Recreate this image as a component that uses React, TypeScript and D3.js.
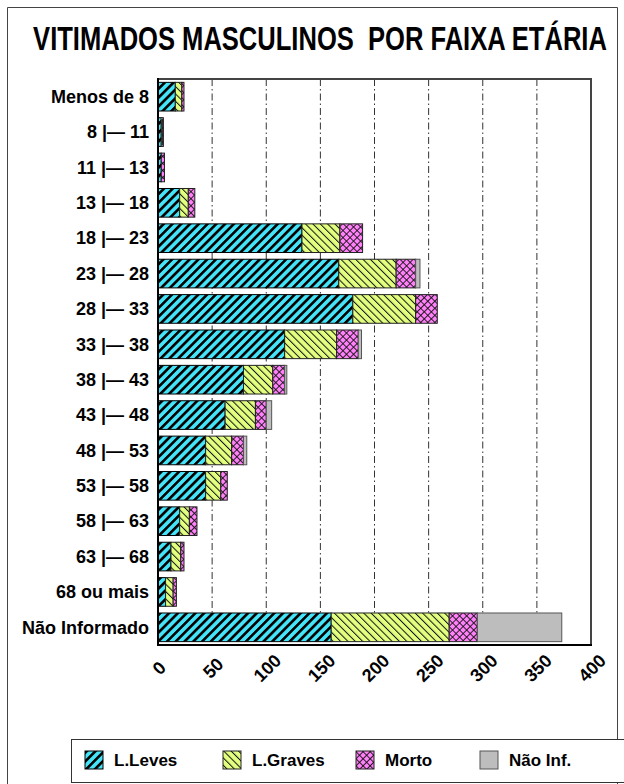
import React, { useRef, useEffect } from 'react';
import * as d3 from 'd3';

const categories = [
  'Menos de 8', '8 |— 11', '11 |— 13', '13 |— 18', '18 |— 23', '23 |— 28',
  '28 |— 33', '33 |— 38', '38 |— 43', '43 |— 48', '48 |— 53', '53 |— 58',
  '58 |— 63', '63 |— 68', '68 ou mais', 'Não Informado',
];
const leves = [16, 3, 3, 20, 133, 167, 180, 117, 79, 62, 44, 44, 20, 12, 7, 160];
const graves = [6, 1, 0, 8, 35, 53, 58, 48, 27, 28, 24, 14, 9, 9, 7, 109];
const morto = [2, 1, 3, 6, 21, 18, 20, 20, 11, 10, 11, 6, 7, 3, 3, 26];
const naoInf = [0, 0, 0, 0, 0, 4, 0, 3, 2, 5, 3, 0, 0, 0, 0, 78];
const seriesKeys = ['leves', 'graves', 'morto', 'naoInf'];
const seriesNames = ['L.Leves', 'L.Graves', 'Morto', 'Não Inf.'];
const xTicks = [0, 50, 100, 150, 200, 250, 300, 350, 400];
const title = 'VITIMADOS MASCULINOS  POR FAIXA ETÁRIA';

const W = 624;
const H = 784;
const FONT = '"Liberation Sans", Arial, sans-serif';

const App = () => {
  const svgRef = useRef<SVGSVGElement | null>(null);

  useEffect(() => {
    const svg = d3.select(svgRef.current);
    svg.selectAll('*').remove();

    const left = 158, right = 591, top = 79, bottom = 645;

    const x = d3.scaleLinear().domain([0, 400]).range([left, right]);
    const y = d3.scaleBand<string>().domain(categories).range([top, bottom])
      .paddingInner(0.19).paddingOuter(0.095);

    const rows = categories.map((c, i) => ({
      cat: c, leves: leves[i], graves: graves[i], morto: morto[i], naoInf: naoInf[i],
    }));
    const stacked = d3.stack<any>().keys(seriesKeys)(rows);

    // patterns
    const defs = svg.append('defs');
    const pL = defs.append('pattern').attr('id', 'pat-leves').attr('patternUnits', 'userSpaceOnUse')
      .attr('width', 6.2).attr('height', 6.2).attr('patternTransform', 'rotate(45)');
    pL.append('rect').attr('width', 6.2).attr('height', 6.2).attr('fill', '#45E3F8');
    pL.append('rect').attr('width', 2.6).attr('height', 6.2).attr('fill', '#000');

    const pG = defs.append('pattern').attr('id', 'pat-graves').attr('patternUnits', 'userSpaceOnUse')
      .attr('width', 5.2).attr('height', 5.2).attr('patternTransform', 'rotate(-45)');
    pG.append('rect').attr('width', 5.2).attr('height', 5.2).attr('fill', '#E2FF80');
    pG.append('rect').attr('width', 1).attr('height', 5.2).attr('fill', '#111');

    const pM = defs.append('pattern').attr('id', 'pat-morto').attr('patternUnits', 'userSpaceOnUse')
      .attr('width', 5).attr('height', 5).attr('patternTransform', 'rotate(45)');
    pM.append('rect').attr('width', 5).attr('height', 5).attr('fill', '#FF80F8');
    pM.append('rect').attr('width', 0.9).attr('height', 5).attr('fill', '#111');
    pM.append('rect').attr('width', 5).attr('height', 0.9).attr('fill', '#111');

    const fills: Record<string, string> = {
      leves: 'url(#pat-leves)', graves: 'url(#pat-graves)', morto: 'url(#pat-morto)', naoInf: '#BDBDBD',
    };
    const strokes: Record<string, string> = {
      leves: '#000', graves: '#222', morto: '#222', naoInf: '#555',
    };

    svg.append('rect').attr('width', W).attr('height', H).attr('fill', '#fff');

    // outer frame
    svg.append('path').attr('d', `M7.5,${H + 2}V7.5H617.5V${H + 2}`)
      .attr('fill', 'none').attr('stroke', '#444').attr('stroke-width', 1);

    // title - squeezed horizontally to fit, like a narrow font
    const t = svg.append('text').attr('x', 0).attr('y', 0).attr('text-anchor', 'middle')
      .attr('font-family', '"Liberation Sans Narrow", "Arial Narrow", sans-serif')
      .attr('font-weight', 'bold').attr('font-size', 33)
      .style('white-space', 'pre')
      .text(title);
    const natural = (t.node() as SVGTextElement).getComputedTextLength() || 576;
    t.attr('transform', `translate(320,50) scale(${Math.min(1, 574 / natural)},1)`);

    // gridlines
    svg.append('g').selectAll('line').data(xTicks.slice(1, -1)).enter().append('line')
      .attr('x1', d => x(d)).attr('x2', d => x(d)).attr('y1', top).attr('y2', bottom)
      .attr('stroke', '#333').attr('stroke-width', 1).attr('stroke-dasharray', '7 3 1.5 3');

    // bars
    svg.append('g').selectAll('g').data(stacked).enter().append('g')
      .each(function (s: any) {
        d3.select(this).selectAll('rect').data(s.filter((d: any) => d[1] - d[0] > 0)).enter().append('rect')
          .attr('x', (d: any) => x(d[0]))
          .attr('y', (d: any) => y(d.data.cat) as number)
          .attr('width', (d: any) => x(d[1]) - x(d[0]))
          .attr('height', y.bandwidth())
          .attr('fill', fills[s.key])
          .attr('stroke', strokes[s.key]).attr('stroke-width', 1);
      });

    // plot frame
    svg.append('rect').attr('x', left).attr('y', top).attr('width', right - left).attr('height', bottom - top)
      .attr('fill', 'none').attr('stroke', '#444').attr('stroke-width', 2);
    svg.append('line').attr('x1', left).attr('x2', left).attr('y1', top - 1).attr('y2', bottom + 1)
      .attr('stroke', '#000').attr('stroke-width', 2);
    svg.append('line').attr('x1', left - 1).attr('x2', right + 1).attr('y1', bottom).attr('y2', bottom)
      .attr('stroke', '#000').attr('stroke-width', 2);

    // y labels
    svg.append('g').selectAll('text').data(categories).enter().append('text')
      .attr('x', 149).attr('y', d => (y(d) as number) + y.bandwidth() / 2)
      .attr('dy', '0.35em').attr('text-anchor', 'end')
      .attr('font-family', FONT).attr('font-weight', 'bold').attr('font-size', 18)
      .text(d => d);

    // x labels
    svg.append('g').selectAll('text').data(xTicks).enter().append('text')
      .attr('transform', d => `translate(${x(d) + 1},${668}) rotate(-45)`)
      .attr('dy', '0.35em').attr('text-anchor', 'middle')
      .attr('font-family', FONT).attr('font-weight', 'bold').attr('font-size', 18)
      .text(d => d);

    // legend
    svg.append('rect').attr('x', 71.5).attr('y', 739.5).attr('width', 560).attr('height', 43)
      .attr('fill', '#fff').attr('stroke', '#333').attr('stroke-width', 1);
    const legX = [85, 223, 356, 480];
    const lg = svg.append('g').selectAll('g').data(seriesKeys).enter().append('g')
      .attr('transform', (d, i) => `translate(${legX[i]},751)`);
    lg.append('rect').attr('width', 18).attr('height', 18)
      .attr('fill', d => fills[d]).attr('stroke', d => strokes[d]).attr('stroke-width', 1);
    lg.append('text').attr('x', 29).attr('y', 9).attr('dy', '0.35em')
      .attr('font-family', FONT).attr('font-weight', 'bold').attr('font-size', 17)
      .text((d, i) => seriesNames[i]);
  }, []);

  return (
    <svg ref={svgRef} width={W} height={H}
      style={{ position: 'absolute', left: 0, top: 0, display: 'block' }} />
  );
};

export default App;
